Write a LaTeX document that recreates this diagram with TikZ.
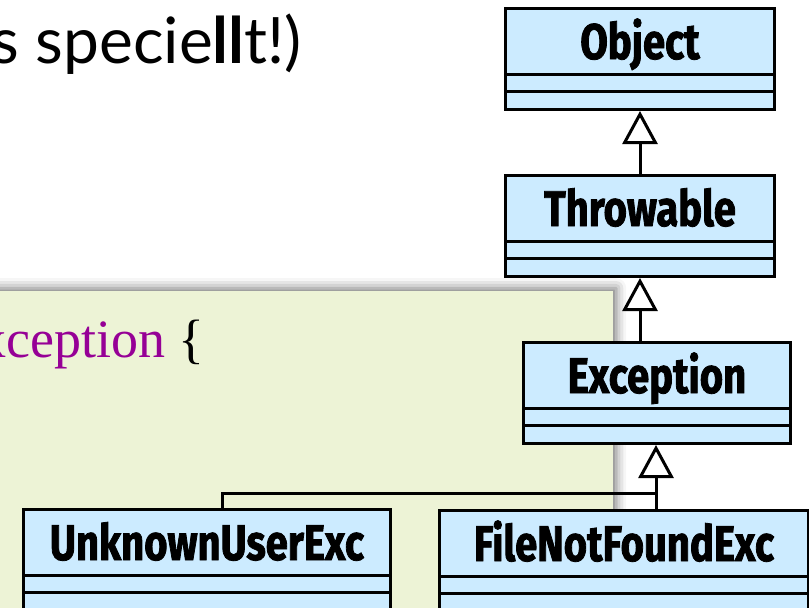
\documentclass[tikz,border=0pt]{standalone}
\usepackage{fontspec}
\usetikzlibrary{arrows.meta,shadows.blur}
\newfontfamily\umlfont[FakeStretch=0.80, BoldFeatures={FakeBold=1.6}]{Fira Sans}
\newfontfamily\titlefont{Lato}
\newfontfamily\codefont{Liberation Serif}
\definecolor{umlblue}{RGB}{204,235,255}
\definecolor{panelgreen}{RGB}{237,243,214}
\definecolor{codepurple}{RGB}{150,0,150}
\tikzset{
  umlbox/.style={draw=black, line width=3pt, fill=umlblue, minimum width=#1, minimum height=101pt, inner sep=0pt, anchor=north west},
  umltext/.style={font=\umlfont\bfseries\fontsize{50}{50}\selectfont, inner sep=0pt, anchor=base},
  gen/.style={line width=3pt, -{Triangle[open, length=33pt, width=35pt, fill=white]}},
  conn/.style={line width=3pt},
  panel/.style={fill=panelgreen, draw=none, inner sep=0pt, anchor=north west,
     blur shadow={shadow xshift=3pt, shadow yshift=3pt, shadow blur radius=10pt, shadow opacity=55}}
}
\newcommand\umlclass[5]{%
  \node[umlbox=#4] (#1) at (#2,#3) {};
  \node[umltext] (#1-t) at ([yshift=-52pt]#1.north) {#5};
  \draw[line width=3pt] ([yshift=-67pt]#1.north west) -- ([yshift=-67pt]#1.north east);
  \draw[line width=3pt] ([yshift=-84pt]#1.north west) -- ([yshift=-84pt]#1.north east);
}
\begin{document}
\begin{tikzpicture}[x=1pt,y=-1pt]
\useasboundingbox (0,0) rectangle (809,608);
\clip (0,0) rectangle (809,608);
\node[font=\titlefont\fontsize{64}{64}\selectfont, anchor=base east, inner sep=0pt] (title) at (302,63) {s specie{\bfseries ll}t!)};
\node[panel, minimum width=643pt, minimum height=360pt] (panel) at (-30,291) {};
\node[font=\codefont\fontsize{54}{54}\selectfont, anchor=base east, inner sep=0pt] (code) at (205,357) {\textcolor{codepurple}{xception} \{};
\umlclass{obj}{504}{7}{269pt}{Object}
\umlclass{thr}{504}{174}{269pt}{Throwable}
\umlclass{exc}{522}{341}{267pt}{Exception}
\umlclass{unk}{22}{508}{367pt}{UnknownUserExc}
\umlclass{fnf}{438}{509}{369pt}{FileNotFoundExc}
\draw[gen] (thr.north) -- (obj.south);
\draw[gen] (thr.south |- exc.north) -- (thr.south);
\coordinate (j) at (656,493);
\coordinate (j2) at (222,493);
\draw[gen] (j) -- (j |- exc.south);
\draw[conn] (j |- fnf.north) -- (j) -- (j2) -- (j2 |- unk.north);
\end{tikzpicture}
\end{document}
